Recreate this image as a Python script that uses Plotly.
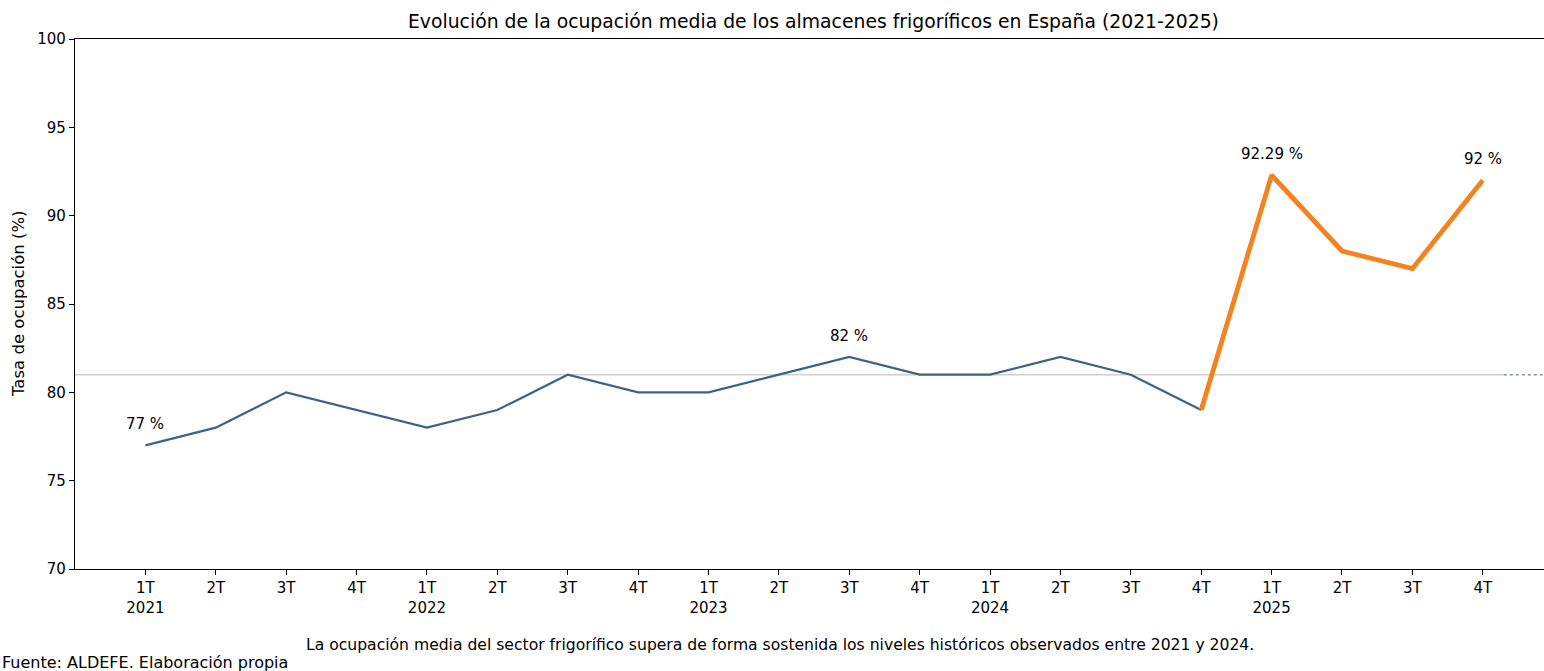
import plotly.graph_objects as go

quarters = ["1T<br>2021", "2T", "3T", "4T",
            "1T<br>2022", "2T", "3T", "4T",
            "1T<br>2023", "2T", "3T", "4T",
            "1T<br>2024", "2T", "3T", "4T",
            "1T<br>2025", "2T", "3T", "4T"]
hist_values = [77, 78, 80, 79, 78, 79, 81, 80, 80, 81, 82, 81, 81, 82, 81, 79]
recent_values = [79, 92.29, 88, 87, 92]
ref_value = 81
labels = {0: "77 %", 10: "82 %", 16: "92.29 %", 19: "92 %"}

n_hist = len(hist_values)
x_hist = list(range(n_hist))
x_recent = list(range(n_hist - 1, n_hist - 1 + len(recent_values)))
all_vals = hist_values + recent_values[1:]

FONT = "DejaVu Sans"
W, H = 1544, 671
L, T, B = 75, 39, 102
PW, PH = W - L, H - T - B


def px_x(px):
    return (px - L) / PW


def px_y(py):
    return (H - B - py) / PH


fig = go.Figure()

fig.add_trace(go.Scatter(x=[-1, 19.3], y=[ref_value, ref_value], mode="lines",
                         line=dict(color="#d0d0d0", width=1.5), hoverinfo="skip",
                         showlegend=False))
fig.add_trace(go.Scatter(x=[19.3, 19.87], y=[ref_value, ref_value], mode="lines",
                         line=dict(color="#7f95a8", width=1.5, dash="dot"), hoverinfo="skip",
                         showlegend=False))

fig.add_trace(go.Scatter(x=x_hist, y=hist_values, mode="lines",
                         line=dict(color="#3d6384", width=2.2), showlegend=False))
fig.add_trace(go.Scatter(x=x_recent, y=recent_values, mode="lines",
                         line=dict(color="#f5821f", width=4.8), showlegend=False))

for i, t in labels.items():
    fig.add_annotation(x=i, y=all_vals[i], text=t, showarrow=False, yshift=21,
                       font=dict(family=FONT, size=15, color="#000"))

fig.add_annotation(xref="paper", yref="paper", x=px_x(813), y=px_y(22),
                   text="Evolución de la ocupación media de los almacenes frigoríficos en España (2021-2025)",
                   showarrow=False, font=dict(family=FONT, size=18.8, color="#000"),
                   xanchor="center", yanchor="middle")
fig.add_annotation(xref="paper", yref="paper", x=px_x(18), y=px_y(304), textangle=-90,
                   text="Tasa de ocupación (%)", showarrow=False,
                   font=dict(family=FONT, size=16.5, color="#000"),
                   xanchor="center", yanchor="middle")
fig.add_annotation(xref="paper", yref="paper", x=px_x(780), y=px_y(645),
                   text="La ocupación media del sector frigorífico supera de forma sostenida los niveles históricos observados entre 2021 y 2024.",
                   showarrow=False, font=dict(family=FONT, size=15.6, color="#000"),
                   xanchor="center", yanchor="middle")
fig.add_annotation(xref="paper", yref="paper", x=px_x(0), y=px_y(662),
                   text="Fuente: ALDEFE. Elaboración propia",
                   showarrow=False, font=dict(family=FONT, size=16, color="#000"),
                   xanchor="left", yanchor="middle")

fig.update_layout(
    width=W, height=H,
    margin=dict(l=L, r=0, t=T, b=B),
    paper_bgcolor="white", plot_bgcolor="white",
    font=dict(family=FONT, size=15, color="#000"),
    xaxis=dict(range=[-1, 19.87], tickmode="array", tickvals=list(range(len(quarters))),
               ticktext=quarters, ticks="outside", ticklen=5, tickcolor="#000",
               showgrid=False, zeroline=False, showline=True, linecolor="#000",
               linewidth=1.2, mirror=True, tickangle=0),
    yaxis=dict(range=[70, 100], tickvals=[70, 75, 80, 85, 90, 95, 100],
               ticks="outside", ticklen=5, tickcolor="#000", showgrid=False,
               zeroline=False, showline=True, linecolor="#000", linewidth=1.2,
               mirror=True),
)

fig.write_html("out.html")
